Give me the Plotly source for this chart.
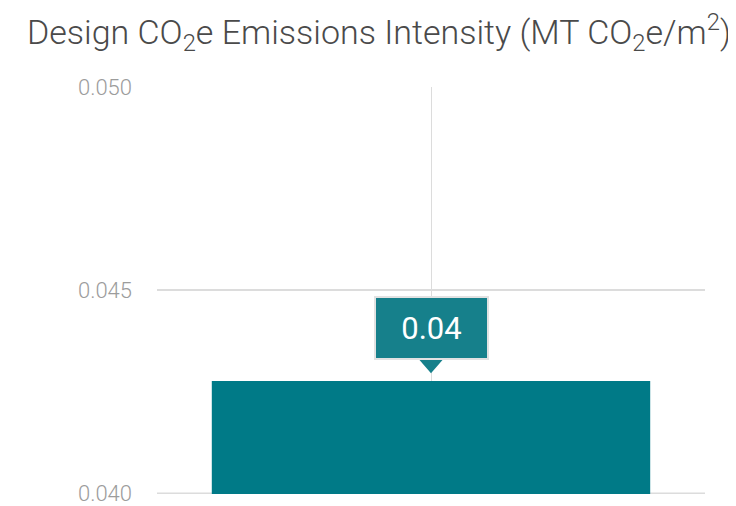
import plotly.graph_objects as go

categories = ["Design"]
values = [0.04276]
label_text = ["0.04"]
y_ticks = [0.040, 0.045, 0.050]
y_tick_labels = ["0.040", "0.045", "0.050"]
title_text = "Design CO<sub>2</sub>e Emissions Intensity (MT CO<sub>2</sub>e/m<sup>2</sup>)"

bar_color = "#007a87"
tip_color = "#16808b"
grid_color = "#dcdcdc"

# page is drawn with an 8px body offset
W, H = 728, 498

fig = go.Figure()
fig.add_trace(go.Bar(x=categories, y=values, marker=dict(color=bar_color, line=dict(width=0)),
                     width=0.8, hoverinfo="skip"))

# baseline gridline at the lowest tick (plotly skips it at the range edge)
fig.add_shape(type="line", xref="paper", yref="y", x0=0, x1=1, y0=y_ticks[0], y1=y_ticks[0],
              line=dict(color=grid_color, width=1.5), layer="below")

# tooltip-like label
fig.add_annotation(x=categories[0], y=values[0], xref="x", yref="y",
                   text=label_text[0], showarrow=False, yanchor="bottom", yshift=21,
                   width=111, height=60, valign="middle",
                   font=dict(family="Roboto", size=31, color="white"),
                   bgcolor=tip_color, bordercolor="#e2e2e2", borderwidth=2, borderpad=0)
# pointer triangle
fig.add_shape(type="path", xref="x", yref="y",
              path="M -0.021,{a} L 0.021,{a} L 0,{b} Z".format(
                  a=values[0] + 0.00052, b=values[0] + 0.000195),
              fillcolor=tip_color, line=dict(width=0))

fig.update_layout(
    width=W, height=H,
    margin=dict(l=149, r=31, t=79, b=12, autoexpand=False),
    paper_bgcolor="white", plot_bgcolor="white",
    title=dict(text=title_text, x=0.5096, xanchor="center", y=0.975, yanchor="top",
               font=dict(family="Roboto", size=34, color="#4a4a4a", weight=300)),
    showlegend=False,
    bargap=0.2,
)
fig.update_xaxes(showticklabels=False, showgrid=True, gridcolor=grid_color, gridwidth=1,
                 ticks="", showline=False, zeroline=False, automargin=False)
fig.update_yaxes(range=[0.03998, 0.050], tickvals=y_ticks, ticktext=y_tick_labels,
                 showgrid=True, gridcolor=grid_color, gridwidth=1.5, zeroline=False,
                 ticks="", ticklabelstandoff=24, automargin=False,
                 tickfont=dict(family="Roboto", size=22, color="#9c9c9c", weight=300))
fig.write_html("out.html")
